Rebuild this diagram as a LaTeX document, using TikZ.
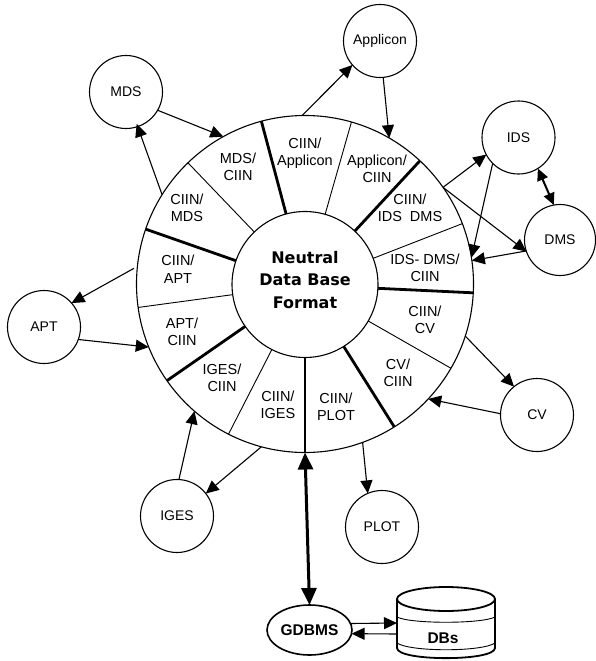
\documentclass[tikz,border=0pt]{standalone}
\usepackage{fontspec}
\setmainfont{Liberation Sans}
\newfontfamily\hubfont{DejaVu Sans}
\usetikzlibrary{arrows.meta,shapes.geometric}
\tikzset{
  every node/.style={inner sep=0pt,outer sep=0pt},
  disc/.style={draw,circle,line width=1.1pt},
  sat/.style={draw,circle,line width=1.1pt,minimum size=73pt,font=\fontsize{14}{17}\selectfont},
  lbl/.style={align=center,font=\fontsize{14.5}{17.5}\selectfont},
  major/.style={line width=2.8pt},
  minor/.style={line width=0.9pt},
  conn/.style={line width=1.1pt,-{Triangle[length=13pt,width=12pt]}},
  both/.style={line width=2pt,{Triangle[length=12pt,width=11pt]}-{Triangle[length=12pt,width=11pt]}},
  bus/.style={line width=3pt,{Triangle[length=17pt,width=15pt]}-{Triangle[length=17pt,width=15pt]}},
}
\begin{document}
\begin{tikzpicture}[x=1pt,y=-1pt]
\useasboundingbox (0,0) rectangle (595,661);
% ring and hub
\node[disc,minimum size=337pt] (ring) at (305,284) {};
\node[disc,minimum size=146pt] (hub) at (305,284.5) {};
\node[align=center,font=\hubfont\bfseries\fontsize{16}{22.3}\selectfont] (title) at (305,280) {Neutral\\Data Base\\Format};
% spokes
\foreach \a in {105.2,47.4,-3.7,-58.1,-90,-145.2,161.7}
  \draw[major] (hub.\a) -- (ring.\a);
\foreach \a in {74.3,21.7,-30.9,-117,188.5,134.5}
  \draw[minor] (hub.\a) -- (ring.\a);
% sector labels
\node[lbl] (s1) at (305,153) {CIIN/\\Applicon};
\node[lbl] (s2) at (377,169) {Applicon/\\CIIN};
\node[lbl] (s3) at (410,208) {CIIN/\\IDS\ \ DMS};
\node[lbl] (s4) at (425,268) {IDS- DMS/\\CIIN};
\node[lbl] (s5) at (425,320) {CIIN/\\CV};
\node[lbl] (s6) at (398,373) {CV/\\CIIN};
\node[lbl] (s7) at (336,407) {CIIN/\\PLOT};
\node[lbl] (s8) at (278,405) {CIIN/\\IGES};
\node[lbl] (s9) at (222,378) {IGES/\\CIIN};
\node[lbl] (s10) at (182,332) {APT/\\CIIN};
\node[lbl] (s11) at (178,269) {CIIN/\\APT};
\node[lbl] (s12) at (187,208) {CIIN/\\MDS};
\node[lbl] (s13) at (238,167) {MDS/\\CIIN};
% satellites
\node[sat] (mds) at (126,92) {MDS};
\node[sat] (applicon) at (380,41) {Applicon};
\node[sat] (ids) at (518.5,137.5) {IDS};
\node[sat,minimum size=71pt] (dms) at (560,240) {DMS};
\node[sat] (cv) at (537,415) {CV};
\node[sat] (plot) at (382,527) {PLOT};
\node[sat] (iges) at (177,516) {IGES};
\node[sat] (apt) at (44,327) {APT};
% connectors
\draw[conn] (ring.91.7) -- (applicon.221.8);
\draw[conn] (applicon.-85.4) -- (ring.60.3);
\draw[conn] (ring.148.7) -- ([yshift=3pt]mds.-73.9);
\draw[conn] (mds.-30.7) -- (ring.119.6);
\draw[conn,shorten <=4pt] (ring.174.7) -- (apt.41.9);
\draw[conn] (apt.-20.4) -- (ring.202.2);
\draw[conn] (iges.87) -- (ring.229.3);
\draw[conn] (ring.255.3) -- (iges.38.4);
\draw[conn] (ring.-70.9) -- (plot.113.8);
\draw[conn] (ring.-18.3) -- (cv.129);
\draw[conn] (cv.178.5) -- (ring.-43.8);
\draw[conn] (ring.35.4) -- (ids.208.2);
\draw[conn] (ids.225) -- (ring.9.5);
\draw[both] (ids.-58.8) -- (dms.100.7);
\draw[conn] (ring.35.4) -- (dms.199);
\draw[conn] (dms.198) -- (ring.8.6);
% database
\node[draw,ellipse,line width=1.6pt,minimum width=85pt,minimum height=50pt,font=\bfseries\fontsize{15.5}{18}\selectfont] (gdbms) at (309.5,630) {GDBMS};
\draw[bus] (ring.-90) -- (gdbms.north);
\node[font=\bfseries\fontsize{15.5}{18}\selectfont] (dbs) at (443,638) {DBs};
\coordinate (dbin) at (397,623);
\coordinate (dbout) at (397,634);
\draw[line width=1.8pt] (446,599) ellipse [x radius=49,y radius=12];
\draw[line width=1.8pt] (397,599) -- (397,648) .. controls (397,661.5) and (495,661.5) .. (495,648) -- (495,599);
\draw[line width=0.9pt] (397,617) .. controls (410,624) and (482,624) .. (495,617);
\draw[line width=0.9pt] (397,643) .. controls (410,652) and (482,652) .. (495,643);
\draw[conn] (gdbms.9.6) -- (dbin);
\draw[conn] (dbout) -- (gdbms.-5.4);
\end{tikzpicture}
\end{document}
